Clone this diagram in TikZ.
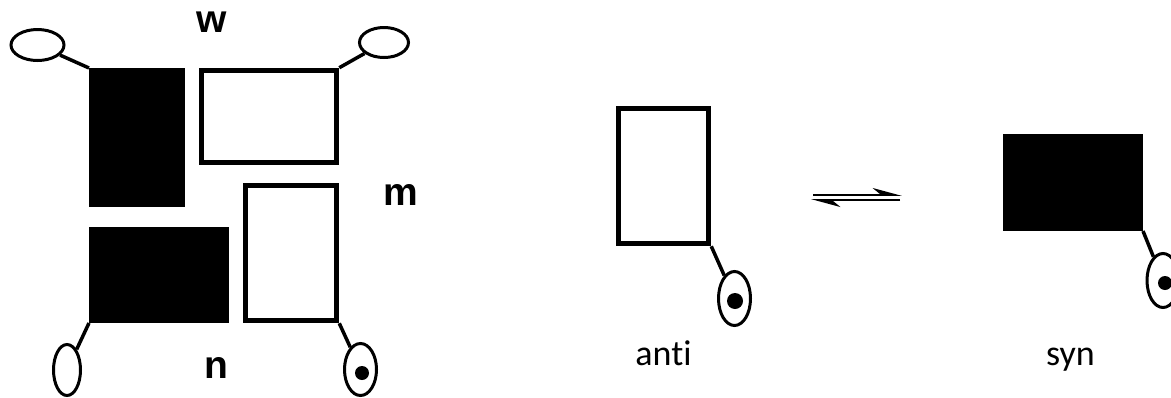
\documentclass[tikz,border=0pt]{standalone}
\usepackage{fontspec}
\setmainfont{Carlito}[Ligatures=NoCommon]
\newfontfamily\labfont{Liberation Sans}
\usetikzlibrary{shapes.geometric,arrows.meta}

\begin{document}
\begin{tikzpicture}[x=1pt, y=-1pt,
  blk/.style={fill=black, inner sep=0pt, outer sep=0pt},
  wht/.style={draw, line width=5.5pt, inner sep=0pt},
  ring/.style={draw, ellipse, line width=3pt, inner sep=0pt},
  tail/.style={line width=3.5pt},
  lab/.style={font=\labfont\bfseries\fontsize{39}{46}\selectfont, anchor=base},
  conf/.style={font=\fontsize{36}{44}\selectfont, anchor=base},
  eq/.style={line width=1.8pt, -{Stealth[harpoon, length=26pt, width=14pt]}}]
\useasboundingbox (0,0) rectangle (1171,397);
\node[blk, minimum width=96pt, minimum height=139pt] (BlkW) at (137,137.5) {};
\node[wht, minimum width=135pt, minimum height=92pt] (WhtW) at (269,116.5) {};
\node[wht, minimum width=91pt, minimum height=135pt] (WhtM) at (291,253) {};
\node[blk, minimum width=140pt, minimum height=96pt] (BlkN) at (159,275) {};
\node[ring, minimum width=53pt, minimum height=31pt] (E1) at (37.5,45) {};
\node[ring, minimum width=49pt, minimum height=30pt] (E2) at (384,42.5) {};
\node[ring, minimum width=27pt, minimum height=51pt] (E3) at (67,370) {};
\node[ring, minimum width=32pt, minimum height=52pt] (E4) at (360.5,369.5) {};
\fill (362,373) circle (7pt);
\draw[tail] (BlkW.north west) -- (E1);
\draw[tail] (WhtW.north east) -- (E2);
\draw[tail] (BlkN.south west) -- (E3);
\draw[tail] (WhtM.south east) -- (E4);
\node[lab] (W) at (211.5,32) {w};
\node[lab] (M) at (401,205) {m};
\node[lab] (N) at (216,378) {n};
\node[wht, minimum width=90pt, minimum height=135pt] (Anti) at (663.5,176) {};
\node[ring, minimum width=32pt, minimum height=54pt] (E5) at (734.5,298.5) {};
\fill (735,301) circle (8pt);
\draw[tail] (Anti.south east) -- (E5);
\node[conf] (AntiL) at (663.5,365) {anti};
\coordinate (FwdA) at (813,195);
\coordinate (FwdB) at (902,195);
\coordinate (RevA) at (900,200);
\coordinate (RevB) at (811,200);
\draw[eq] (FwdA) -- (FwdB);
\draw[eq] (RevA) -- (RevB);
\node[blk, minimum width=140pt, minimum height=97pt] (Syn) at (1073,182.5) {};
\node[ring, minimum width=32pt, minimum height=54pt] (E6) at (1163,280.5) {};
\fill (1165,283) circle (7pt);
\draw[tail] (Syn.south east) -- (E6);
\node[conf] (SynL) at (1070.5,365) {syn};
\end{tikzpicture}
\end{document}
